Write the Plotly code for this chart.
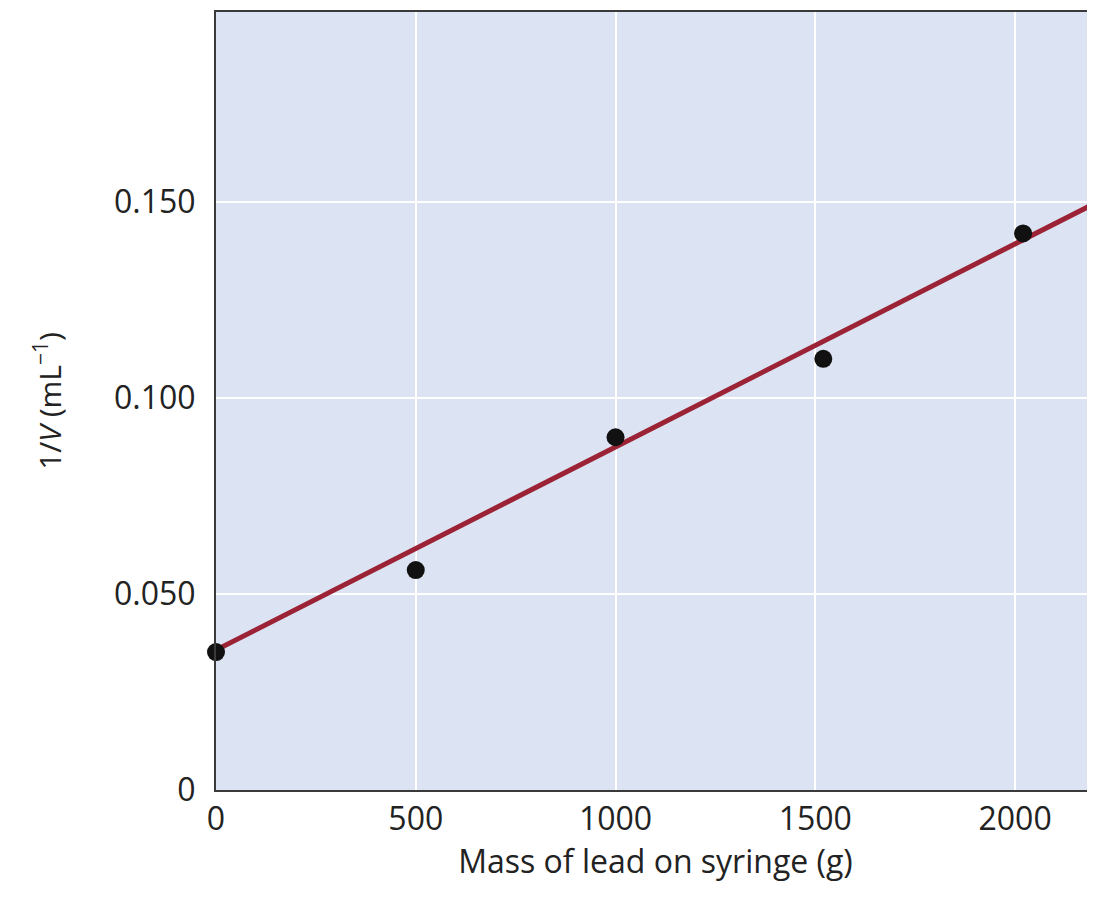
import plotly.graph_objects as go

mass_g = [0, 500, 1000, 1520, 2020]
inv_volume = [0.0352, 0.0561, 0.0900, 0.1100, 0.1420]
fit_mass = [0, 2200]
fit_inv_volume = [0.0357, 0.1497]

x_tickvals = [0, 500, 1000, 1500, 2000]
x_ticktext = ["0", "500", "1000", "1500", "2000"]
y_tickvals = [0, 0.05, 0.10, 0.15]
y_ticktext = ["0", "0.050", "0.100", "0.150"]

FONT = "Open Sans"

fig = go.Figure()
fig.add_trace(go.Scatter(x=fit_mass, y=fit_inv_volume, mode="lines",
                         line=dict(color="#9B2335", width=5), cliponaxis=False,
                         showlegend=False, hoverinfo="skip"))
fig.add_trace(go.Scatter(x=mass_g, y=inv_volume, mode="markers",
                         marker=dict(color="#111111", size=18), cliponaxis=False,
                         showlegend=False))

fig.update_layout(
    width=1087, height=880,
    margin=dict(l=208, r=0, t=4, b=98, pad=0),
    paper_bgcolor="white", plot_bgcolor="#DCE3F3",
    font=dict(family=FONT, size=32, color="#222222"),
    xaxis=dict(range=[0, 2200], tickvals=x_tickvals, ticktext=x_ticktext,
               showgrid=True, gridcolor="white", gridwidth=2, zeroline=False,
               showline=True, linecolor="#3a3a3a", linewidth=2, mirror=True,
               ticks="", ticklen=0,
               title=dict(text="Mass of lead on syringe (g)", standoff=6,
                          font=dict(size=32))),
    yaxis=dict(range=[0, 0.1985], tickvals=y_tickvals, ticktext=y_ticktext,
               showgrid=True, gridcolor="white", gridwidth=2, zeroline=False,
               showline=True, linecolor="#3a3a3a", linewidth=2,
               ticks="", ticklen=0, ticklabelstandoff=12,
               title=dict(text="1/<i>V</i> (mL<sup>\u22121</sup>)", standoff=44,
                          font=dict(size=30))),
)

fig.write_html("out.html")
